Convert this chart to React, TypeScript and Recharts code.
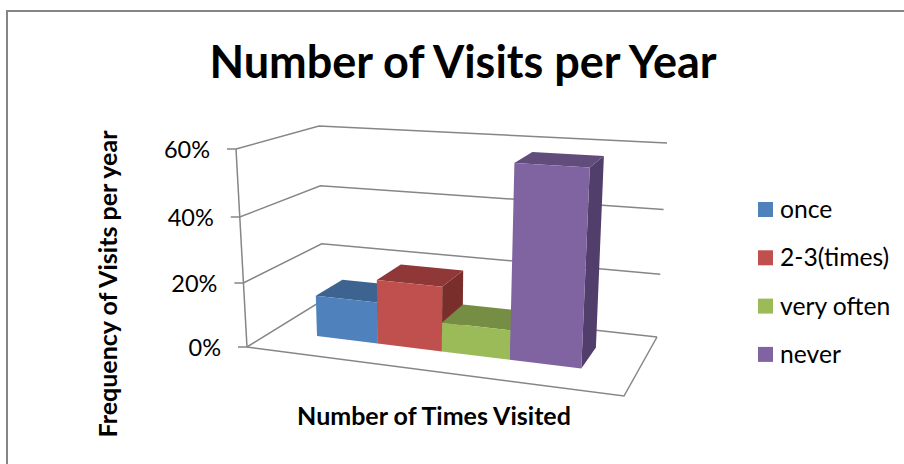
import React from 'react';
import { BarChart, Bar, CartesianGrid, XAxis, YAxis } from 'recharts';

const CATEGORY = ['Visits'];
const SERIES_NAMES = ['once', '2-3(times)', 'very often', 'never'];
const SERIES_VALUES = [0.13, 0.2, 0.09, 0.58];
const FRONT_COLORS = ['#4F81BD', '#C0504D', '#9BBB59', '#8064A2'];
const TOP_COLORS = ['#3D6491', '#903838', '#758E44', '#614C7B'];
const SIDE_COLORS = ['#335478', '#7A2E2C', '#617638', '#513E6A'];
const Y_TICKS = [0, 0.2, 0.4, 0.6];

const FONT = 'Lato, sans-serif';
const GRID = '#868686';

// flat plot area that recharts scales into, it gets projected onto the 3d box below
const MARGIN = { top: 100, right: 444, bottom: 164, left: 0 };
const YAXIS_WIDTH = 60;
const PLOT_LEFT = MARGIN.left + YAXIS_WIDTH;
const PLOT_W = 400;
const PLOT_H = 200;
const PLOT_BOTTOM = MARGIN.top + PLOT_H;

// depth of the bars inside the box
const BAR_FRONT = 0.35;
const BAR_BACK = 0.72;

// box corners on screen: front/back, bottom/top, left/right
const FBL = [247, 347];
const FBR = [624, 396];
const FTL = [236, 149];
const FTR = [637, 175];
const BBL = [323, 300];
const BBR = [657, 337];
const BTL = [319, 126];
const BTR = [667, 143];

const mix = (a: number[], b: number[], t: number) => [a[0] + (b[0] - a[0]) * t, a[1] + (b[1] - a[1]) * t];

const project = (u: number, vRaw: number, w: number) => {
  const v = vRaw - 0.046 * vRaw * (1 - vRaw);
  const front = mix(mix(FBL, FBR, u), mix(FTL, FTR, u), v);
  const back = mix(mix(BBL, BBR, u), mix(BTL, BTR, u), v);
  return mix(front, back, w);
};

const pts = (list: number[][]) => list.map((p) => `${p[0].toFixed(1)},${p[1].toFixed(1)}`).join(' ');

// bars get narrower to the left because of the perspective
const warpU = (px: number) => {
  const u = (px - PLOT_LEFT) / PLOT_W - 0.015;
  return u - 0.15 * (u - 0.12) * (0.85 - u);
};

const makeBox = (index: number) => (props: any) => {
  const { x, y, width, height } = props;
  const u0 = warpU(x);
  const u1 = warpU(x + width);
  const v0 = (PLOT_BOTTOM - (y + height)) / PLOT_H;
  const v1 = (PLOT_BOTTOM - y) / PLOT_H;
  const front = [project(u0, v0, BAR_FRONT), project(u1, v0, BAR_FRONT), project(u1, v1, BAR_FRONT), project(u0, v1, BAR_FRONT)];
  const top = [project(u0, v1, BAR_FRONT), project(u1, v1, BAR_FRONT), project(u1, v1, BAR_BACK), project(u0, v1, BAR_BACK)];
  const side = [project(u1, v0, BAR_FRONT), project(u1, v1, BAR_FRONT), project(u1, v1, BAR_BACK), project(u1, v0, BAR_BACK)];
  return (
    <g>
      <polygon points={pts(side)} fill={SIDE_COLORS[index]} />
      <polygon points={pts(top)} fill={TOP_COLORS[index]} />
      <polygon points={pts(front)} fill={FRONT_COLORS[index]} />
    </g>
  );
};

// grid line runs from the tick mark along the left wall and then the back wall
const WallLine = (props: any) => {
  const v = (PLOT_BOTTOM - props.y1) / PLOT_H;
  const p = project(0, v, 0);
  const line = [[p[0] - 9, p[1]], p, project(0, v, 1), project(1, v, 1)];
  const isFloor = Math.abs(v) < 0.001;
  const isTop = Math.abs(v - 1) < 0.001;
  return (
    <g key={props.key ?? props.y1}>
      <polyline points={pts(line)} fill="none" stroke={GRID} strokeWidth={1.5} />
      {isFloor && (
        <polyline points={pts([project(0, 0, 0), project(1, 0, 0), project(1, 0, 1)])} fill="none" stroke={GRID} strokeWidth={1.5} />
      )}
      {isTop && (
        <polyline points={pts([project(0, 0, 0), project(0, 1, 0)])} fill="none" stroke={GRID} strokeWidth={1.5} />
      )}
    </g>
  );
};

const WallTick = (props: any) => {
  const { y, payload } = props;
  const p = project(0, (PLOT_BOTTOM - y) / PLOT_H, 0);
  return (
    <text x={p[0] - 26} y={p[1] + 9} textAnchor="end" fontFamily={FONT} fontSize={23.5} fill="#000">
      {`${Math.round(payload.value * 100)}%`}
    </text>
  );
};

const data = CATEGORY.map((name) => {
  const row: Record<string, string | number> = { name };
  SERIES_NAMES.forEach((s, i) => {
    row[s] = SERIES_VALUES[i];
  });
  return row;
});

export default function App() {
  return (
    <div style={{ position: 'absolute', left: 0, top: 0, width: 904, height: 464, background: '#fff' }}>
      <BarChart width={904} height={464} data={data} margin={MARGIN} barCategoryGap="13.5%" barGap={0}>
        <polyline points="7,464 7,11 904,11" fill="none" stroke={GRID} strokeWidth={2} />
        <text x={463} y={78} textAnchor="middle" fontFamily={FONT} fontWeight={700} fontSize={45} fill="#000">
          Number of Visits per Year
        </text>
        <text x={434} y={425} textAnchor="middle" fontFamily={FONT} fontWeight={700} fontSize={25} fill="#000">
          Number of Times Visited
        </text>
        <text transform="translate(117,284) rotate(-90)" textAnchor="middle" fontFamily={FONT} fontWeight={700} fontSize={25} fill="#000">
          Frequency of Visits per year
        </text>
        <CartesianGrid vertical={false} horizontal={WallLine} />
        <XAxis dataKey="name" hide />
        <YAxis
          width={YAXIS_WIDTH}
          domain={[0, 0.6]}
          ticks={Y_TICKS}
          interval={0}
          axisLine={false}
          tickLine={false}
          tick={WallTick}
        />
        {SERIES_NAMES.map((s, i) => (
          <Bar key={s} dataKey={s} fill={FRONT_COLORS[i]} shape={makeBox(i)} isAnimationActive={false} />
        ))}
        {SERIES_NAMES.map((s, i) => (
          <g key={s}>
            <rect x={758} y={202 + i * 48.3} width={15} height={15} fill={FRONT_COLORS[i]} />
            <text x={780} y={218 + i * 48.3} fontFamily={FONT} fontSize={24.7} fill="#000">
              {s}
            </text>
          </g>
        ))}
      </BarChart>
    </div>
  );
}
